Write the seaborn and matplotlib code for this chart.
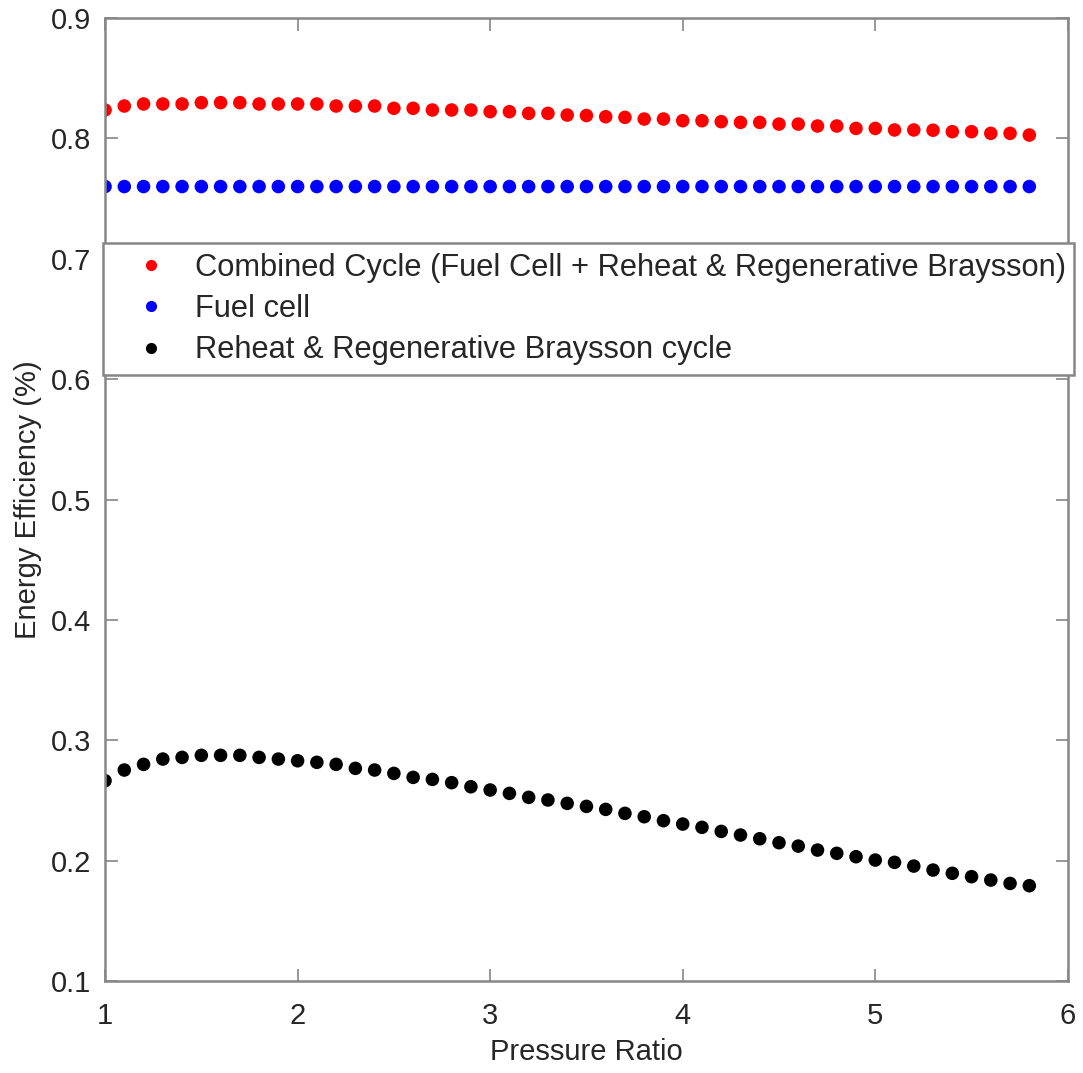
import numpy as np
import pandas as pd
import matplotlib
matplotlib.use("Agg")
import matplotlib.pyplot as plt
import seaborn as sns

# Pressure ratio sweep
pressure_ratio = [round(1.0 + 0.1 * i, 1) for i in range(49)]

# Combined cycle efficiency (fuel cell + reheat & regenerative Braysson)
combined = [0.8236, 0.8269, 0.8286, 0.8286, 0.8286, 0.8297, 0.8297, 0.8297, 0.8286, 0.8286,
            0.8286, 0.8286, 0.8269, 0.8269, 0.8269, 0.8250, 0.8250, 0.8236, 0.8236, 0.8236,
            0.8222, 0.8222, 0.8208, 0.8208, 0.8194, 0.8190, 0.8180, 0.8175, 0.8161, 0.8161,
            0.8147, 0.8147, 0.8139, 0.8133, 0.8133, 0.8119, 0.8119, 0.8103, 0.8103, 0.8083,
            0.8083, 0.8070, 0.8070, 0.8068, 0.8056, 0.8056, 0.8042, 0.8042, 0.8028]

# Fuel cell efficiency
fuel_cell = [0.76] * 49

# Reheat & regenerative Braysson cycle efficiency
braysson = [0.2664, 0.2753, 0.2800, 0.2844, 0.2858, 0.2875, 0.2875, 0.2875, 0.2858, 0.2844,
            0.2830, 0.2817, 0.2800, 0.2767, 0.2753, 0.2725, 0.2692, 0.2675, 0.2648, 0.2614,
            0.2587, 0.2559, 0.2526, 0.2504, 0.2476, 0.2451, 0.2426, 0.2393, 0.2365, 0.2332,
            0.2304, 0.2277, 0.2243, 0.2213, 0.2182, 0.2149, 0.2121, 0.2088, 0.2061, 0.2033,
            0.2005, 0.1986, 0.1955, 0.1922, 0.1895, 0.1867, 0.1839, 0.1811, 0.1792]

series_names = ["Combined Cycle (Fuel Cell + Reheat & Regenerative Braysson)",
                "Fuel cell",
                "Reheat & Regenerative Braysson cycle"]
series_colors = ["#ff0000", "#0000ff", "#000000"]

df = pd.concat([
    pd.DataFrame({"Pressure Ratio": pressure_ratio, "Efficiency": vals, "Series": name})
    for name, vals in zip(series_names, [combined, fuel_cell, braysson])
], ignore_index=True)

sns.set_style("white")
plt.rcParams["font.family"] = ["Liberation Sans", "DejaVu Sans"]

text_color = "#262626"
axis_color = "#868686"

fig = plt.figure(figsize=(10.83, 10.73), dpi=100)
ax = fig.add_axes([0.097, 0.0857, 0.889, 0.8975])

sns.scatterplot(data=df, x="Pressure Ratio", y="Efficiency", hue="Series",
                hue_order=series_names, palette=series_colors,
                s=95, linewidth=0, ax=ax, legend=False)

ax.set_xlim(1, 6)
ax.set_ylim(0.1, 0.9)
ax.set_xticks([1, 2, 3, 4, 5, 6])
ax.set_yticks([0.1, 0.2, 0.3, 0.4, 0.5, 0.6, 0.7, 0.8, 0.9])
ax.set_xticklabels(["1", "2", "3", "4", "5", "6"])
ax.set_yticklabels(["0.1", "0.2", "0.3", "0.4", "0.5", "0.6", "0.7", "0.8", "0.9"])

ax.tick_params(axis="both", direction="in", length=9, width=1.2, color=axis_color,
               labelsize=21, labelcolor=text_color, top=True, right=True,
               bottom=True, left=True)
ax.tick_params(axis="x", pad=15)
ax.tick_params(axis="y", pad=10)
for spine in ax.spines.values():
    spine.set_visible(True)
    spine.set_color(axis_color)
    spine.set_linewidth(1.8)

ax.set_xlabel("Pressure Ratio", fontsize=21, color=text_color, labelpad=6)
ax.set_ylabel("Energy Efficiency (%)", fontsize=21, color=text_color, labelpad=6)

handles = [plt.Line2D([], [], linestyle="none", marker="o", markersize=8,
                      markerfacecolor=c, markeredgewidth=0)
           for c in series_colors]
leg = fig.legend(handles, series_names, loc="upper left",
                 bbox_to_anchor=(0.0951, 0.6524, 0.8966, 0.1212),
                 mode="expand", fontsize=22.2, frameon=True, fancybox=False,
                 edgecolor=axis_color, framealpha=1, borderpad=0.33,
                 labelspacing=0.36, handletextpad=0.21, borderaxespad=0,
                 handlelength=2.45)
leg.get_frame().set_linewidth(1.8)
for t in leg.get_texts():
    t.set_color(text_color)

fig.savefig("out.png", dpi=100)
